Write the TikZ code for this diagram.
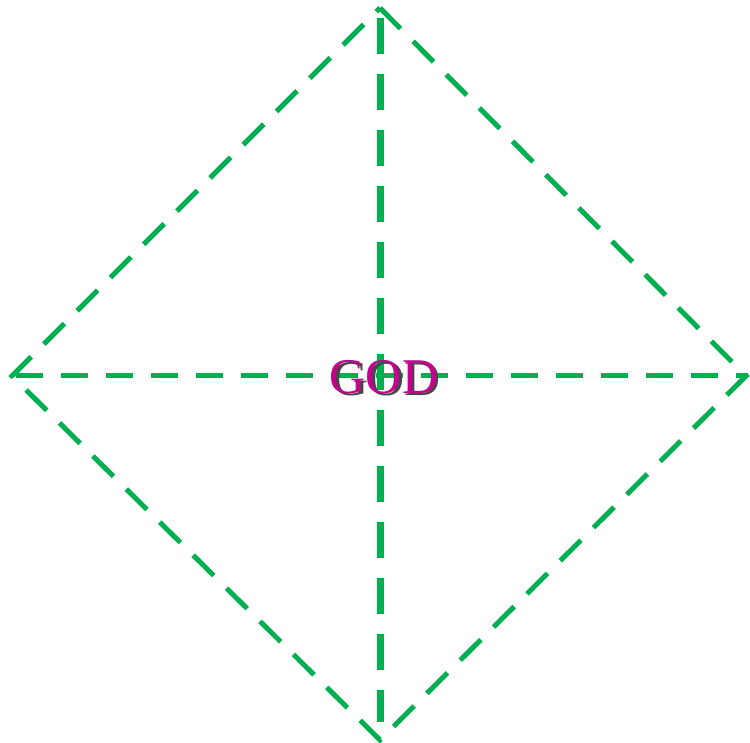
\documentclass[tikz,border=0pt]{standalone}
\usepackage{fontspec}
\setmainfont{Liberation Serif}
\definecolor{dgreen}{RGB}{0,176,80}
\definecolor{gmag}{RGB}{196,0,140}
\definecolor{gshadow}{RGB}{70,70,70}
\newcommand{\shadowtext}[1]{\makebox[0pt][l]{\hspace{2.5pt}\raisebox{-2.5pt}{\textcolor{gshadow}{#1}}}#1}
\tikzset{
  dline/.style={draw=dgreen, line width=5pt, dash pattern=on 29pt off 18pt},
  hline/.style={draw=dgreen, line width=5pt, dash pattern=on 27pt off 18pt},
  vline/.style={draw=dgreen, line width=7pt, dash pattern=on 36pt off 20pt},
  godtext/.style={font=\fontsize{50}{50}\selectfont, inner sep=0pt, text=gmag}
}
\begin{document}
\begin{tikzpicture}[x=1pt,y=-1pt]
\useasboundingbox[fill=white] (0,0) rectangle (750,743);
\coordinate (T) at (380,8);
\coordinate (R) at (746,376);
\coordinate (B) at (380,740);
\coordinate (L) at (12,376);
\coordinate (Vt) at (380,18);
\coordinate (Vb) at (380,722);
\coordinate (Hl) at (16,376);
\coordinate (Hr) at (748,376);
\draw[dline, line join=miter] (T) -- (R) -- (B) -- (L) -- cycle;
\draw[hline] (Hl) -- (Hr);
\draw[vline] (Vt) -- (Vb);
\node[godtext] (god) at (384,378) {\shadowtext{GOD}};
\end{tikzpicture}
\end{document}
